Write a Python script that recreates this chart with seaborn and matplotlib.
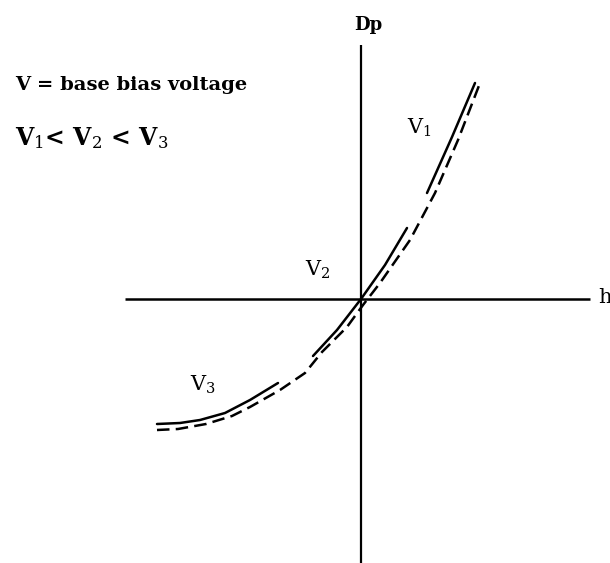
import numpy as np
import pandas as pd
import matplotlib
matplotlib.use("Agg")
import matplotlib.pyplot as plt
import seaborn as sns

# Solid curve, NaN marks gaps in the drawn stroke
solid_h = [-2.04, -1.81, -1.61, -1.36, -1.11, -0.83, np.nan, -0.48, -0.24, 0.0, 0.24, 0.46, np.nan, 0.66, 0.91, 1.14]
solid_dp = [-1.25, -1.24, -1.21, -1.14, -1.01, -0.84, np.nan, -0.57, -0.31, 0.0, 0.34, 0.71, np.nan, 1.06, 1.62, 2.16]
# Dashed curve
dash_h = [-2.04, -1.83, -1.55, -1.29, -1.11, -0.81, -0.56, -0.39, -0.14, 0.02, 0.19, 0.49, 0.74, 0.97, 1.19]
dash_dp = [-1.31, -1.30, -1.25, -1.17, -1.08, -0.91, -0.74, -0.53, -0.28, -0.06, 0.16, 0.59, 1.06, 1.59, 2.16]

curve_labels = ["V$_1$", "V$_2$", "V$_3$"]
axis_labels = ["h", "Dp"]
note_line1 = "V = base bias voltage"
note_line2 = "V$_1$< V$_2$ < V$_3$"


def segments(xs, ys):
    seg, rows = 0, []
    for x, y in zip(xs, ys):
        if np.isnan(x):
            seg += 1
            continue
        rows.append((x, y, seg))
    return pd.DataFrame(rows, columns=["h", "Dp", "seg"])


sns.set_theme(style="white")
plt.rcParams["font.family"] = ["DejaVu Serif"]
plt.rcParams["mathtext.fontset"] = "dejavuserif"

fig = plt.figure(figsize=(6.10, 5.63), dpi=100)
ax = fig.add_axes([0, 0, 1, 1])

# Axes lines
ax.plot([-2.36, 2.29], [0, 0], color="black", lw=1.8, solid_capstyle="butt")
ax.plot([0, 0], [-2.64, 2.54], color="black", lw=1.6, solid_capstyle="butt")

sdf = segments(solid_h, solid_dp)
ddf = segments(dash_h, dash_dp)
sns.lineplot(data=sdf, x="h", y="Dp", units="seg", estimator=None, sort=False,
             color="black", lw=1.8, ax=ax, legend=False)
sns.lineplot(data=ddf, x="h", y="Dp", units="seg", estimator=None, sort=False,
             color="black", lw=1.8, ax=ax, legend=False, linestyle=(0, (5, 2.5)))
ax.set_xlim(-3.61, 2.49)
ax.set_ylim(-2.64, 2.99)
ax.axis("off")

# Labels
ax.text(2.37, -0.04, axis_labels[0], fontsize=15, ha="left", va="baseline", color="black")
ax.text(0.07, 2.74, axis_labels[1], fontsize=13, ha="center", va="center",
        fontweight="bold", color="black")
ax.text(0.46, 1.71, curve_labels[0], fontsize=15, ha="left", va="center", color="black")
ax.text(-0.56, 0.29, curve_labels[1], fontsize=15, ha="left", va="center", color="black")
ax.text(-1.71, -0.86, curve_labels[2], fontsize=15, ha="left", va="center", color="black")
ax.text(-3.46, 2.14, note_line1, fontsize=14, ha="left", va="center",
        fontweight="bold", color="black")
ax.text(-3.46, 1.54, note_line2, fontsize=17, ha="left", va="baseline",
        fontweight="bold", color="black")

fig.savefig("out.png", dpi=100, facecolor="white")
